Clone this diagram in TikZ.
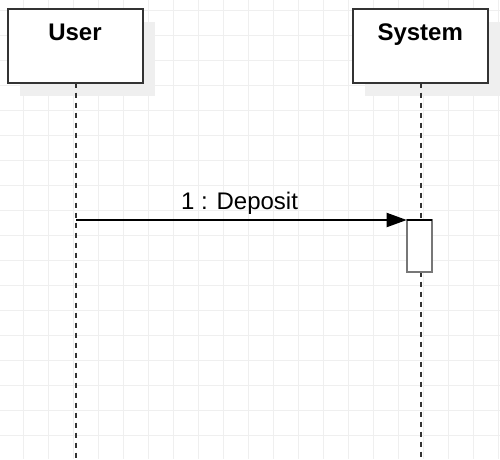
\documentclass[tikz,border=0pt]{standalone}
\usepackage{fontspec}
\setmainfont{Liberation Sans}
\usetikzlibrary{arrows.meta}
\definecolor{gridc}{HTML}{EFEFEF}
\definecolor{shadowc}{HTML}{EFEFEF}
\definecolor{boxc}{HTML}{333333}
\definecolor{actc}{HTML}{777777}
\tikzset{
  gridline/.style={draw=gridc, line width=1pt},
  shadowbox/.style={fill=shadowc, draw=none},
  actorbox/.style={draw=boxc, fill=white, line width=2pt},
  lifeline/.style={draw=boxc, line width=2pt, dash pattern=on 5pt off 5pt},
  actbox/.style={draw=actc, fill=white, line width=2pt, outer sep=0pt},
  msg/.style={draw=black, line width=2pt, -{Triangle[length=20pt,width=14pt]}},
  title/.style={font=\fontsize{24}{28}\selectfont\bfseries, inner sep=0pt, anchor=base},
  msglabel/.style={font=\fontsize{24}{28}\selectfont, inner sep=0pt, anchor=base},
}
\begin{document}
\begin{tikzpicture}[x=1pt,y=-1pt]
\useasboundingbox (0,0) rectangle (500,459);
\fill[white] (0,0) rectangle (500,459);
% grid
\foreach \gx in {23.3,48.3,...,500} \draw[gridline] (\gx,0) -- (\gx,459);
\foreach \gy in {10,35,...,459} \draw[gridline] (0,\gy) -- (500,\gy);
% shadows
\fill[shadowbox] (20,22) rectangle (155,96);
\fill[shadowbox] (365,22) rectangle (500,96);
% actor boxes
\node[actorbox, minimum width=135pt, minimum height=73.4pt, inner sep=0pt] (userbox) at (75,46) {};
\node[actorbox, minimum width=135pt, minimum height=73.4pt, inner sep=0pt] (sysbox) at (420.2,46) {};
\node[title] (usert) at (75,40.7) {User};
\node[title] (syst) at (420.2,40.7) {System};
% lifelines
\coordinate (userend) at (76,459);
\coordinate (sysend) at (421.3,459);
\coordinate (usertop) at (76,82.7);
\coordinate (systop) at (421.3,82.7);
\draw[lifeline] (usertop) -- (userend);
\draw[lifeline] (systop) -- (421.3,220);
\draw[lifeline] (421.3,271.7) -- (sysend);
% activation
\node[actbox, minimum width=25pt, minimum height=51.7pt, inner sep=0pt] (act) at (419.2,245.85) {};
\draw[black, line width=2pt] (act.north west) -- (act.north east);
% message
\coordinate (msgstart) at (76,220);
\draw[msg] (msgstart) -- (act.north west);
\node[msglabel] (msgl) at (239.5,209) {1 : Deposit};
\end{tikzpicture}
\end{document}
